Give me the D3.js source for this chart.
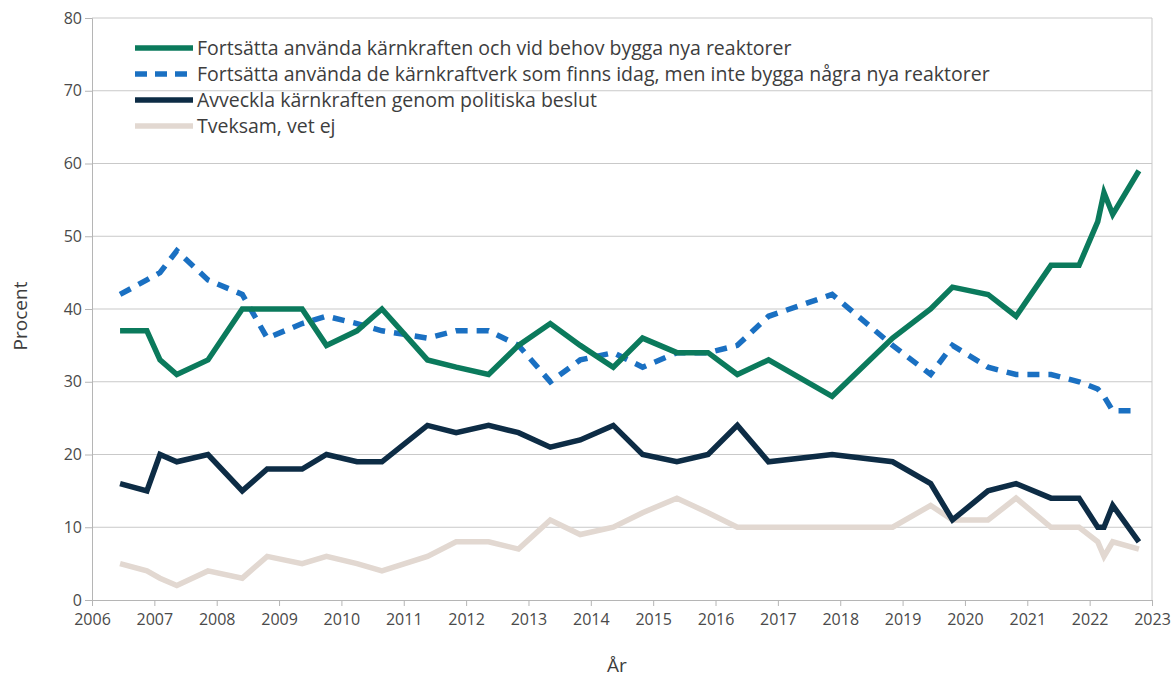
<!DOCTYPE html>
<html>
<head>
    <meta charset="utf-8" />
    <title>Opinion om kärnkraft</title>
    <style>
        body { margin: 0; background: #fff; }
        text { font-family: "Open Sans", sans-serif; }
    </style>
    <script type="text/javascript" src="https://cdn.jsdelivr.net/npm/d3@7/dist/d3.min.js"></script>
</head>
<body>
    <div id="svg"></div>

    <script type="text/javascript">
        // survey dates as decimal years
        var dates = [2006.45, 2006.88, 2007.09, 2007.36, 2007.86, 2008.41, 2008.81, 2009.37, 2009.76,
            2010.25, 2010.65, 2011.38, 2011.84, 2012.36, 2012.84, 2013.35, 2013.83, 2014.36, 2014.83,
            2015.38, 2015.88, 2016.35, 2016.85, 2017.87, 2018.84, 2019.45, 2019.80, 2020.37, 2020.82,
            2021.38, 2021.83, 2022.13, 2022.23, 2022.37, 2022.79];

        var byggaNya = [37, 37, 33, 31, 33, 40, 40, 40, 35, 37, 40, 33, 32, 31, 35, 38, 35, 32, 36,
            34, 34, 31, 33, 28, 36, 40, 43, 42, 39, 46, 46, 52, 56, 53, 59];
        var befintliga = [42, 44, 45, 48, 44, 42, 36, 38, 39, 38, 37, 36, 37, 37, 35, 30, 33, 34, 32,
            34, 34, 35, 39, 42, 35, 31, 35, 32, 31, 31, 30, 29, 28, 26, 26];
        var avveckla = [16, 15, 20, 19, 20, 15, 18, 18, 20, 19, 19, 24, 23, 24, 23, 21, 22, 24, 20,
            19, 20, 24, 19, 20, 19, 16, 11, 15, 16, 14, 14, 10, 10, 13, 8];
        var tveksam = [5, 4, 3, 2, 4, 3, 6, 5, 6, 5, 4, 6, 8, 8, 7, 11, 9, 10, 12,
            14, 12, 10, 10, 10, 10, 13, 11, 11, 14, 10, 10, 8, 6, 8, 7];

        var seriesNames = [
            'Fortsätta använda kärnkraften och vid behov bygga nya reaktorer',
            'Fortsätta använda de kärnkraftverk som finns idag, men inte bygga några nya reaktorer',
            'Avveckla kärnkraften genom politiska beslut',
            'Tveksam, vet ej'
        ];
        var xTicks = d3.range(2006, 2024);
        var yTicks = d3.range(0, 90, 10);

        var series = [
            { name: seriesNames[0], values: byggaNya, color: '#0b7a5c', dash: null },
            { name: seriesNames[1], values: befintliga, color: '#1a70c2', dash: '12,9' },
            { name: seriesNames[2], values: avveckla, color: '#0d2c45', dash: null },
            { name: seriesNames[3], values: tveksam, color: '#e2d8d1', dash: null }
        ];

        var width = 1171,
            height = 679,
            margin = { top: 18, right: 19, bottom: 79, left: 92 };

        var svg = d3.select('#svg')
            .append('svg')
            .attr('width', width)
            .attr('height', height);

        var xScale = d3.scaleLinear()
            .domain([2006, 2023])
            .range([margin.left, width - margin.right]);

        var yScale = d3.scaleLinear()
            .domain([0, 80])
            .range([height - margin.bottom, margin.top]);

        // gridlines
        svg.append('g')
            .selectAll('line')
            .data(yTicks.slice(1))
            .enter()
            .append('line')
            .attr('x1', margin.left)
            .attr('x2', width - margin.right)
            .attr('y1', d => yScale(d))
            .attr('y2', d => yScale(d))
            .attr('stroke', '#c9c9c9')
            .attr('stroke-width', 1);

        // right frame line
        svg.append('line')
            .attr('x1', width - margin.right)
            .attr('x2', width - margin.right)
            .attr('y1', margin.top)
            .attr('y2', height - margin.bottom)
            .attr('stroke', '#c9c9c9');

        var xAxis = d3.axisBottom(xScale)
            .tickValues(xTicks)
            .tickFormat(d3.format('d'))
            .tickSize(6)
            .tickPadding(8);

        var yAxis = d3.axisLeft(yScale)
            .tickValues(yTicks)
            .tickSize(7)
            .tickPadding(3);

        var gX = svg.append('g')
            .attr('transform', 'translate(0, ' + (height - margin.bottom) + ')')
            .call(xAxis);

        var gY = svg.append('g')
            .attr('transform', 'translate(' + margin.left + ', 0)')
            .call(yAxis);

        [gX, gY].forEach(function(g) {
            g.select('.domain').attr('stroke', '#b5b5b5');
            g.selectAll('.tick line').attr('stroke', '#b5b5b5');
            g.selectAll('.tick text')
                .attr('fill', '#4a4a4a')
                .style('font-family', '"Open Sans", sans-serif')
                .style('font-size', '16px');
        });

        // lines
        var line = d3.line()
            .x((d, i) => xScale(dates[i]))
            .y(d => yScale(d));

        // draw back to front: grey first, green last on top
        var drawOrder = [3, 2, 1, 0];
        drawOrder.forEach(function(k) {
            var s = series[k];
            svg.append('path')
                .datum(s.values)
                .attr('fill', 'none')
                .attr('stroke', s.color)
                .attr('stroke-width', 5.5)
                .attr('stroke-linejoin', 'miter')
                .attr('stroke-dasharray', s.dash)
                .attr('d', line);
        });

        // legend
        var legend = svg.append('g')
            .attr('transform', 'translate(135, 48)');

        var rows = legend.selectAll('.row')
            .data(series)
            .enter()
            .append('g')
            .attr('class', 'row')
            .attr('transform', (d, i) => 'translate(0,' + i * 26 + ')');

        rows.append('line')
            .attr('x1', 0)
            .attr('x2', 58)
            .attr('stroke', d => d.color)
            .attr('stroke-width', 5.5)
            .attr('stroke-dasharray', d => d.dash ? '12,8' : null);

        rows.append('text')
            .attr('x', 62)
            .attr('y', 7)
            .attr('fill', '#3d3d3d')
            .style('font-size', '19.5px')
            .text(d => d.name);

        // axis titles
        svg.append('text')
            .attr('x', 617)
            .attr('y', 672)
            .attr('text-anchor', 'middle')
            .attr('fill', '#3d3d3d')
            .style('font-size', '19px')
            .text('År');

        svg.append('text')
            .attr('transform', 'translate(27, 316) rotate(-90)')
            .attr('text-anchor', 'middle')
            .attr('fill', '#3d3d3d')
            .style('font-size', '19px')
            .text('Procent');
    </script>
</body>
</html>
